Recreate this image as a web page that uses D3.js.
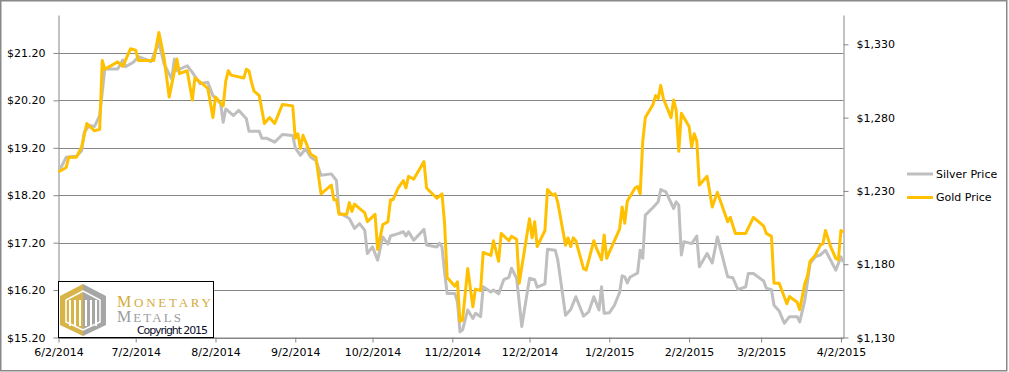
<!DOCTYPE html>
<html>
<head>
<meta charset="utf-8">
<script src="https://cdn.jsdelivr.net/npm/d3@7"></script>
<style>
body { margin: 0; background: #fff; }
text { font-family: "DejaVu Sans", sans-serif; }
</style>
</head>
<body>
<script>
// chart data (day offsets counted from the first date on the axis)
var startDate = new Date(2014, 5, 2);

var goldDays = [0, 3, 4, 7, 9, 11, 14, 16, 17, 18, 23, 25, 28, 30, 31, 37, 39, 41, 43, 46, 47, 50, 52, 53, 56, 58, 60, 61, 64, 65, 66, 67, 72, 73, 74, 75, 76, 78, 80, 82, 84, 87, 91, 92, 93, 94, 95, 98, 100, 102, 106, 107, 108, 109, 112, 113, 114, 115, 119, 120, 123, 124, 126, 128, 129, 130, 132, 134, 135, 136, 138, 142, 143, 147, 149, 150, 151, 154, 155, 156, 157, 159, 161, 162, 164, 165, 168, 169, 171, 172, 175, 176, 178, 179, 183, 184, 185, 186, 189, 190, 192, 193, 194, 197, 198, 199, 200, 201, 204, 205, 208, 209, 211, 212, 213, 214, 218, 219, 220, 221, 224, 225, 226, 227, 228, 231, 232, 233, 234, 235, 238, 239, 240, 241, 242, 245, 246, 247, 248, 249, 252, 254, 256, 260, 261, 263, 267, 270, 274, 275, 277, 278, 280, 283, 284, 287, 288, 290, 291, 292, 294, 296, 297, 298, 300, 302, 303, 304, 305];
var goldPrices = [1243, 1246, 1253, 1253, 1260, 1276, 1271, 1272, 1319, 1313, 1318, 1315, 1327, 1326, 1319, 1319, 1338, 1321, 1294, 1320, 1310, 1312, 1292, 1307, 1303, 1300, 1280, 1294, 1288, 1305, 1312, 1309, 1307, 1313, 1312, 1304, 1298, 1295, 1276, 1280, 1276, 1289, 1288, 1266, 1269, 1259, 1268, 1255, 1253, 1228, 1234, 1224, 1224, 1214, 1214, 1222, 1216, 1221, 1215, 1209, 1214, 1190, 1207, 1209, 1224, 1224, 1232, 1237, 1232, 1240, 1238, 1250, 1232, 1225, 1228, 1208, 1171, 1165, 1168, 1141, 1142, 1177, 1151, 1163, 1162, 1188, 1186, 1196, 1182, 1201, 1196, 1199, 1197, 1167, 1211, 1198, 1209, 1192, 1203, 1231, 1227, 1228, 1222, 1193, 1198, 1192, 1198, 1196, 1177, 1176, 1196, 1191, 1183, 1200, 1184, 1188, 1204, 1219, 1208, 1223, 1232, 1233, 1228, 1264, 1280, 1289, 1295, 1293, 1302, 1293, 1280, 1292, 1285, 1257, 1283, 1274, 1260, 1269, 1264, 1234, 1240, 1219, 1229, 1209, 1212, 1201, 1201, 1212, 1206, 1201, 1199, 1167, 1167, 1153, 1158, 1154, 1149, 1167, 1172, 1182, 1186, 1193, 1194, 1203, 1192, 1184, 1183, 1203, 1202];

var silverDays = [0, 1, 3, 7, 9, 10, 12, 14, 16, 18, 23, 25, 26, 29, 31, 36, 39, 41, 44, 45, 46, 50, 52, 55, 58, 60, 63, 64, 65, 68, 70, 73, 74, 78, 79, 81, 84, 87, 91, 92, 94, 96, 98, 100, 102, 106, 108, 109, 113, 115, 117, 119, 120, 122, 124, 126, 128, 129, 132, 134, 135, 136, 138, 142, 143, 147, 148, 149, 150, 151, 154, 155, 156, 157, 159, 161, 162, 164, 165, 168, 169, 171, 173, 175, 176, 178, 180, 183, 185, 186, 189, 190, 193, 194, 197, 199, 201, 204, 206, 208, 210, 211, 212, 214, 216, 218, 219, 220, 221, 222, 225, 226, 227, 228, 231, 233, 234, 236, 239, 240, 241, 242, 243, 246, 248, 249, 252, 254, 256, 260, 262, 264, 267, 268, 270, 274, 275, 277, 278, 280, 282, 284, 287, 288, 290, 292, 294, 296, 298, 300, 302, 304, 305];
var silverPrices = [18.77, 18.79, 19.00, 19.02, 19.14, 19.53, 19.67, 19.65, 19.88, 20.86, 20.86, 21.05, 20.91, 21.00, 21.12, 21.02, 21.42, 20.97, 20.65, 21.07, 20.83, 20.93, 20.79, 20.55, 20.58, 20.30, 20.13, 19.74, 20.02, 19.88, 19.99, 19.81, 19.55, 19.55, 19.40, 19.40, 19.32, 19.48, 19.46, 19.20, 19.04, 19.18, 19.00, 18.93, 18.62, 18.65, 18.51, 17.83, 17.71, 17.50, 17.60, 17.46, 16.97, 17.11, 16.83, 17.32, 17.17, 17.34, 17.39, 17.43, 17.34, 17.43, 17.25, 17.48, 17.15, 17.11, 17.19, 17.11, 16.58, 16.13, 16.13, 15.95, 15.32, 15.36, 15.78, 15.60, 15.71, 15.64, 16.27, 16.16, 16.20, 16.12, 16.42, 16.47, 16.66, 16.45, 15.43, 16.45, 16.42, 16.26, 16.33, 17.06, 17.04, 16.83, 15.67, 15.79, 16.06, 15.65, 15.74, 16.06, 15.78, 16.27, 15.71, 15.72, 15.88, 16.15, 16.50, 16.48, 16.35, 16.47, 16.56, 17.04, 16.87, 17.78, 17.94, 18.06, 18.32, 18.27, 17.92, 18.06, 17.99, 16.94, 17.22, 17.18, 17.34, 16.69, 16.97, 16.77, 17.32, 16.48, 16.46, 16.21, 16.27, 16.55, 16.55, 16.39, 16.24, 16.21, 15.88, 15.76, 15.50, 15.64, 15.64, 15.53, 15.99, 16.76, 16.90, 16.94, 17.04, 16.83, 16.62, 16.90, 16.79];

var monthTicks = ["6/2/2014", "7/2/2014", "8/2/2014", "9/2/2014", "10/2/2014", "11/2/2014", "12/2/2014", "1/2/2015", "2/2/2015", "3/2/2015", "4/2/2015"];
var silverTicks = [15.2, 16.2, 17.2, 18.2, 19.2, 20.2, 21.2];
var goldTicks = [1130, 1180, 1230, 1280, 1330];
var seriesNames = ["Silver Price", "Gold Price"];
var seriesColors = ["#bfbfbf", "#ffc000"];

// layout
var W = 1009, H = 372;
var plot = { left: 58.5, right: 843.5, top: 15, bottom: 337.5 };
var axisColor = "#868686";

var svg = d3.select("body").append("svg")
    .attr("width", W)
    .attr("height", H);

// outer chart border
svg.append("rect")
    .attr("x", 0.75).attr("y", 0.75)
    .attr("width", 1006).attr("height", 370)
    .attr("fill", "#fff")
    .attr("stroke", "#898989")
    .attr("stroke-width", 1.5);

var parseDate = d3.timeParse("%m/%d/%Y");
var fmtDate = d3.timeFormat("%-m/%-d/%Y");

var x = d3.scaleTime()
    .domain([startDate, new Date(2015, 3, 3)])
    .range([plot.left, plot.right]);
var ySilver = d3.scaleLinear().domain([15.2, 22.0]).range([plot.bottom, plot.top]);
var yGold = d3.scaleLinear().domain([1130, 1350]).range([plot.bottom, plot.top]);

var silver = silverDays.map(function(d, i) {
    return { date: d3.timeDay.offset(startDate, d), value: silverPrices[i] };
});
var gold = goldDays.map(function(d, i) {
    return { date: d3.timeDay.offset(startDate, d), value: goldPrices[i] };
});

// gridlines
svg.append("g")
    .selectAll("line")
    .data(silverTicks)
    .enter().append("line")
    .attr("x1", plot.left).attr("x2", plot.right)
    .attr("y1", function(d) { return Math.round(ySilver(d)) + 0.5; })
    .attr("y2", function(d) { return Math.round(ySilver(d)) + 0.5; })
    .attr("stroke", axisColor)
    .attr("stroke-width", 1);

// axes
function styleAxis(g) {
    g.select(".domain").attr("stroke", axisColor);
    g.selectAll(".tick line").attr("stroke", axisColor);
    g.selectAll("text").attr("fill", "#000").style("font-size", "11px")
        .style("font-family", "'DejaVu Sans', sans-serif");
}

svg.append("g")
    .attr("transform", "translate(" + plot.left + ",0)")
    .call(d3.axisLeft(ySilver).tickValues(silverTicks)
        .tickFormat(d3.format("$.2f")).tickSize(5).tickSizeOuter(0).tickPadding(8))
    .call(styleAxis);

svg.append("g")
    .attr("transform", "translate(" + plot.right + ",0)")
    .call(d3.axisRight(yGold).tickValues(goldTicks)
        .tickFormat(d3.format("$,")).tickSize(5).tickSizeOuter(0).tickPadding(8))
    .call(styleAxis);

svg.append("g")
    .attr("transform", "translate(0," + plot.bottom + ")")
    .call(d3.axisBottom(x).tickValues(monthTicks.map(parseDate))
        .tickFormat(fmtDate).tickSize(5).tickSizeOuter(0).tickPadding(6))
    .call(styleAxis);

// price lines
var lineSilver = d3.line()
    .x(function(d) { return x(d.date); })
    .y(function(d) { return ySilver(d.value); });
var lineGold = d3.line()
    .x(function(d) { return x(d.date); })
    .y(function(d) { return yGold(d.value); });

svg.append("path")
    .datum(silver)
    .attr("fill", "none")
    .attr("stroke", seriesColors[0])
    .attr("stroke-width", 3)
    .attr("stroke-linejoin", "round")
    .attr("d", lineSilver);

svg.append("path")
    .datum(gold)
    .attr("fill", "none")
    .attr("stroke", seriesColors[1])
    .attr("stroke-width", 3)
    .attr("stroke-linejoin", "round")
    .attr("d", lineGold);

// legend
var legend = svg.append("g").selectAll("g")
    .data(seriesNames)
    .enter().append("g")
    .attr("transform", function(d, i) { return "translate(907," + (174 + i * 23.5) + ")"; });
legend.append("line")
    .attr("x1", 0).attr("x2", 26)
    .attr("stroke", function(d, i) { return seriesColors[i]; })
    .attr("stroke-width", 3);
legend.append("text")
    .attr("x", 29).attr("dy", "0.35em")
    .style("font-size", "11px")
    .attr("fill", "#000")
    .text(function(d) { return d; });

// watermark box
var logo = svg.append("g");
logo.append("rect")
    .attr("x", 58.5).attr("y", 281.5)
    .attr("width", 155).attr("height", 56)
    .attr("fill", "#fff")
    .attr("stroke", "#000")
    .attr("stroke-width", 1);

var hx = 83, hTop = 284, hBot = 336, hL = 60, hR = 106, hUp = 296, hLo = 325;
logo.append("polygon")
    .attr("points", [[hx, hTop], [hL, hUp], [hL, hLo], [hx, hBot]].join(" "))
    .attr("fill", "#d8b448");
logo.append("polygon")
    .attr("points", [[hx, hTop], [hR, hUp], [hR, hLo], [hx, hBot]].join(" "))
    .attr("fill", "#a6a6a6");
logo.append("polygon")
    .attr("points", [[hx, hTop + 7], [hL + 6, hUp + 4], [hL + 6, hLo - 3], [hx, hBot - 6], [hR - 6, hLo - 3], [hR - 6, hUp + 4]].join(" "))
    .attr("fill", "none")
    .attr("stroke", "#fff")
    .attr("stroke-width", 1.5);
[70, 75, 80, 86, 91, 96].forEach(function(px) {
    logo.append("line")
        .attr("x1", px).attr("x2", px)
        .attr("y1", 300).attr("y2", 326)
        .attr("stroke", "#fff")
        .attr("stroke-width", 2);
});

function logoWord(first, rest, y, color, len) {
    var t = logo.append("text")
        .attr("x", 117).attr("y", y)
        .attr("textLength", len)
        .attr("lengthAdjust", "spacing")
        .style("font-family", "'Liberation Serif', serif")
        .attr("fill", color);
    t.append("tspan").style("font-size", "16px").text(first);
    t.append("tspan").style("font-size", "13px").text(rest);
}
logoWord("M", "ONETARY", 307, "#d3ac3e", 94);
logoWord("M", "ETALS", 322, "#9c9c9c", 64);

logo.append("text")
    .attr("x", 137).attr("y", 334)
    .attr("textLength", 71)
    .style("font-size", "11px")
    .attr("fill", "#0d0d2a")
    .text("Copyright 2015");
</script>
</body>
</html>
